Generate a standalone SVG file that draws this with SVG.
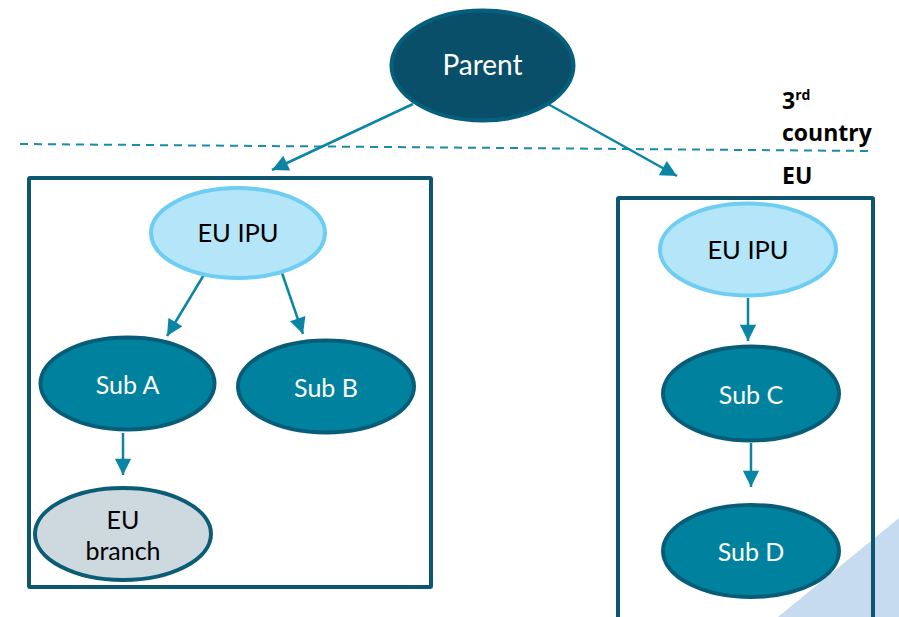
<svg xmlns="http://www.w3.org/2000/svg" width="899" height="617" viewBox="0 0 899 617">
<defs>
<style>
.box{fill:none;stroke:#0c5670;stroke-width:4}
.dark{fill:#00829f;stroke:#075d77;stroke-width:4}
.ipu{fill:#b4e5f8;stroke:#6ecdf2;stroke-width:4}
.br{fill:#cdd9df;stroke:#0b5d76;stroke-width:4}
.par{fill:#0a4f69;stroke:#06607b;stroke-width:4}
.lw{font-family:Lato,"Open Sans",sans-serif;fill:#ffffff;text-anchor:middle}
.lb{font-family:Lato,"Open Sans",sans-serif;fill:#000000;text-anchor:middle}
.lab{font-family:"Open Sans","Liberation Sans",sans-serif;font-weight:bold;fill:#000;font-size:23px}
.con{stroke:#0a86a4;stroke-width:2.5;fill:none}
</style>
<marker id="ah" viewBox="0 0 10 10" refX="10" refY="5" markerWidth="7" markerHeight="6.5" markerUnits="strokeWidth" orient="auto">
<path d="M0,0 L10,5 L0,10 Z" fill="#0a86a4"/>
</marker>
</defs>
<rect width="899" height="617" fill="#ffffff"/>
<polygon points="899,518 778,617 899,617" fill="#c6daf0"/>
<line x1="20" y1="144" x2="870" y2="151" stroke="#1a8ba8" stroke-width="2" stroke-dasharray="8,6"/>
<g id="box-left"><rect class="box" x="29" y="178" width="402" height="409" rx="1"/></g>
<g id="box-right"><rect class="box" x="618" y="198" width="255" height="430" rx="1"/></g>
<g id="connectors">
<line class="con" x1="413" y1="104" x2="272" y2="170" marker-end="url(#ah)"/>
<line class="con" x1="548" y1="104" x2="677" y2="176" marker-end="url(#ah)"/>
<line class="con" x1="205" y1="273" x2="167" y2="336" marker-end="url(#ah)"/>
<line class="con" x1="282" y1="273" x2="303" y2="334" marker-end="url(#ah)"/>
<line class="con" x1="123" y1="433" x2="123" y2="475" marker-end="url(#ah)"/>
<line class="con" x1="748" y1="298" x2="748" y2="341" marker-end="url(#ah)"/>
<line class="con" x1="751" y1="443" x2="751" y2="487" marker-end="url(#ah)"/>
</g>
<g id="parent"><ellipse class="par" cx="482.5" cy="65.5" rx="91" ry="55"/><text class="lw" x="482.5" y="75" font-size="28">Parent</text></g>
<g id="eu-ipu-left"><ellipse class="ipu" cx="238" cy="233" rx="87" ry="45"/><text class="lb" x="238" y="242" font-size="25.5">EU IPU</text></g>
<g id="sub-a"><ellipse class="dark" cx="127.5" cy="383.5" rx="87" ry="46"/><text class="lw" x="127.5" y="394" font-size="25">Sub A</text></g>
<g id="sub-b"><ellipse class="dark" cx="326" cy="386.5" rx="88" ry="46"/><text class="lw" x="326" y="397" font-size="25">Sub B</text></g>
<g id="eu-branch"><ellipse class="br" cx="123" cy="534" rx="88" ry="46"/><text class="lb" x="123" y="529" font-size="25">EU</text><text class="lb" x="123" y="560" font-size="25">branch</text></g>
<g id="eu-ipu-right"><ellipse class="ipu" cx="748" cy="249.5" rx="88" ry="46"/><text class="lb" x="748" y="259" font-size="25.5">EU IPU</text></g>
<g id="sub-c"><ellipse class="dark" cx="751" cy="393.5" rx="88" ry="47"/><text class="lw" x="751" y="404" font-size="25">Sub C</text></g>
<g id="sub-d"><ellipse class="dark" cx="751" cy="551" rx="88" ry="46"/><text class="lw" x="751" y="561" font-size="25">Sub D</text></g>
<g id="labels">
<text class="lab" x="782" y="109">3<tspan font-size="14" dy="-9">rd</tspan></text>
<text class="lab" x="782" y="141">country</text>
<text class="lab" x="782" y="184">EU</text>
</g>
</svg>
